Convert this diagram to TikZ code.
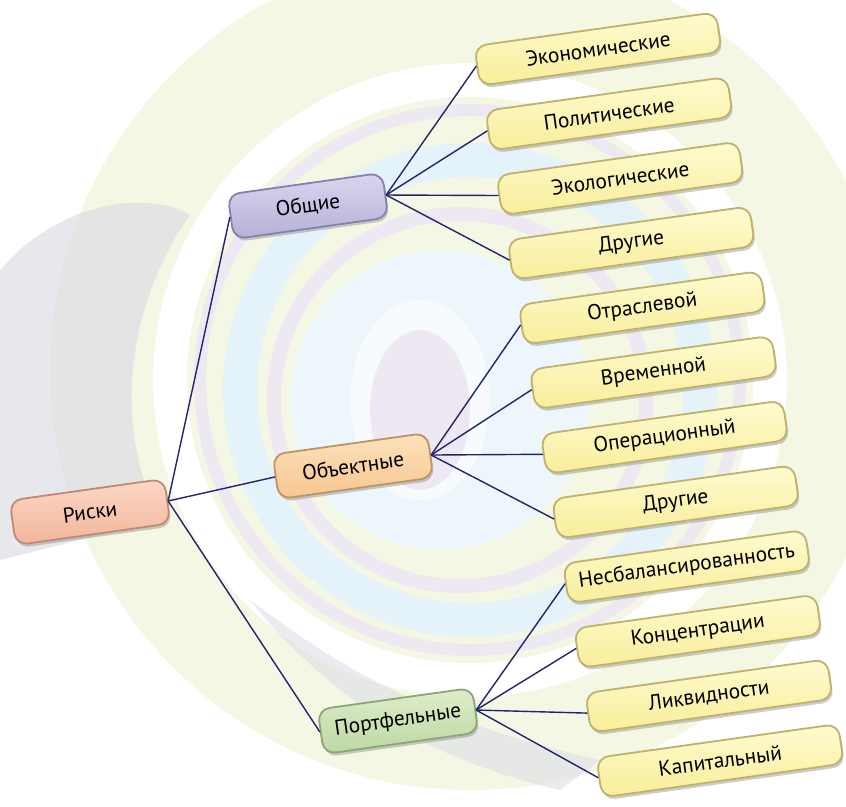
\documentclass[tikz,border=0pt]{standalone}
\usepackage{fontspec}
\setmainfont{PT Sans}
\usetikzlibrary{shadows}

\definecolor{linkblue}{HTML}{23236E}
\definecolor{bggreen}{HTML}{F4F7E4}
\definecolor{bgblue}{HTML}{E4F2FA}
\definecolor{bglav}{HTML}{EEE8F2}
\definecolor{bggrey}{HTML}{D8DAE4}
\definecolor{rootTop}{HTML}{FBD8C6}
\definecolor{rootBot}{HTML}{F2B59B}
\definecolor{rootLine}{HTML}{C08A72}
\definecolor{genTop}{HTML}{DAD6EE}
\definecolor{genBot}{HTML}{B6B0D8}
\definecolor{genLine}{HTML}{8680AE}
\definecolor{objTop}{HTML}{FDE2BC}
\definecolor{objBot}{HTML}{F6C690}
\definecolor{objLine}{HTML}{BC9466}
\definecolor{portTop}{HTML}{DDEDCA}
\definecolor{portBot}{HTML}{BDD8A2}
\definecolor{portLine}{HTML}{8CA676}
\definecolor{leafTop}{HTML}{FEFBD0}
\definecolor{leafBot}{HTML}{F8EE9A}
\definecolor{leafLine}{HTML}{BFB26C}

\tikzset{
  box/.style={rounded corners=12bp, rotate=8, draw, line width=1.8bp,
    inner sep=0pt, font=\fontsize{21.5}{24}\selectfont,
    drop shadow={shadow xshift=1.5bp, shadow yshift=-3bp, opacity=.4}},
  midbox/.style={box, minimum width=156bp, minimum height=45bp},
  leafbox/.style={box, minimum width=244bp, minimum height=40bp,
    top color=leafTop, bottom color=leafBot, draw=leafLine},
  link/.style={draw=linkblue, line width=1.4bp},
}

\begin{document}
\begin{tikzpicture}[x=1bp, y=-1bp]
  \useasboundingbox (0,0) rectangle (846,807);
  \clip (0,0) rectangle (846,807);
  % background swirl
  \fill[white] (0,0) rectangle (846,807);
  \fill[bggreen] (470,370) circle (420);
  \draw[white, line width=34] (470,380) circle (300);
  \draw[bglav, line width=12] (470,380) circle (270);
  \draw[bgblue, line width=34] (470,390) circle (230);
  \draw[bglav, line width=14] (460,400) circle (186);
  \fill[bgblue!70] (440,400) circle (150);
  \fill[white, opacity=.6] (420,400) ellipse (70 and 100);
  \fill[bglav] (420,410) ellipse (50 and 80);
  \fill[bggrey, opacity=.6] (0,270) .. controls (60,200) and (150,190) .. (190,215)
    .. controls (130,300) and (110,420) .. (160,520) -- (0,560) -- cycle;
  \fill[bggrey, opacity=.5] (250,600) .. controls (330,660) and (420,720) .. (600,760)
    -- (560,790) .. controls (430,760) and (330,700) .. cycle;

  % nodes
  \node[midbox, top color=rootTop, bottom color=rootBot, draw=rootLine] (riski) at (90,512) {Риски};
  \node[midbox, top color=genTop, bottom color=genBot, draw=genLine] (obshie) at (308,206) {Общие};
  \node[midbox, top color=objTop, bottom color=objBot, draw=objLine] (obekt) at (353,466) {Объектные};
  \node[midbox, top color=portTop, bottom color=portBot, draw=portLine] (portf) at (398,721) {Портфельные};

  \foreach \txt [count=\i from 0] in {Экономические, Политические, Экологические, Другие,
      Отраслевой, Временной, Операционный, Другие,
      Несбалансированность, Концентрации, Ликвидности, Капитальный}
    \node[leafbox] (l\i) at (598+11.1*\i, 49+64.7*\i) {\txt};

  % links
  \draw[link] (riski.east) -- (obshie.west);
  \draw[link] (riski.east) -- (obekt.west);
  \draw[link] (riski.east) -- (portf.west);
  \foreach \j in {0,...,3}
    \draw[link] (obshie.east) -- (l\j.west);
  \foreach \j in {4,...,7}
    \draw[link] (obekt.east) -- (l\j.west);
  \foreach \j in {8,...,11}
    \draw[link] (portf.east) -- (l\j.west);
\end{tikzpicture}
\end{document}
